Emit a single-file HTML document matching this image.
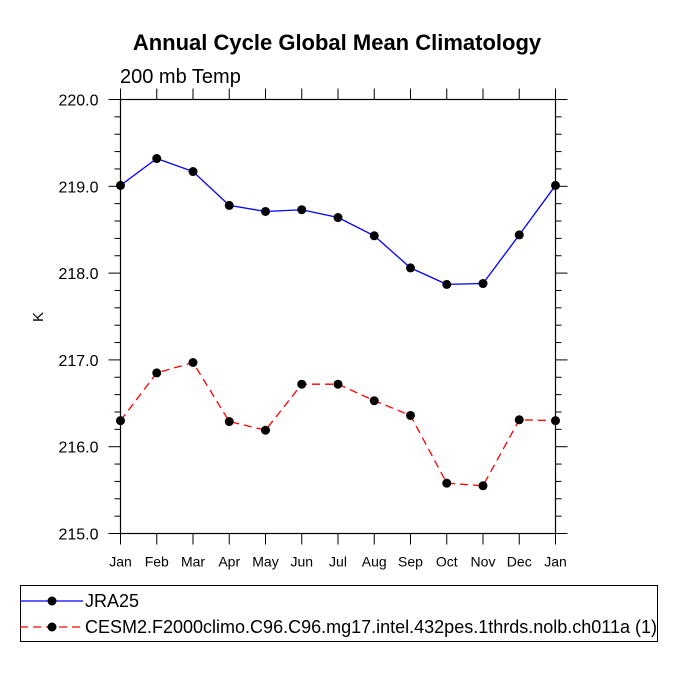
<!DOCTYPE html>
<html><head><meta charset="utf-8"><style>
body{margin:0;background:#fff;}
svg text{font-family:"Liberation Sans",sans-serif;}
</style></head><body>
<svg width="675" height="675" id="chart">
<text x="337" y="50" text-anchor="middle" font-size="22" font-weight="bold">Annual Cycle Global Mean Climatology</text>
<text x="120" y="83" font-size="20">200 mb Temp</text>
<text x="43" y="317" font-size="15" text-anchor="middle" transform="rotate(-90 43 317)">K</text>
<g id="axes"></g>
<g id="series"></g>
<rect x="20.5" y="585.5" width="637" height="56" fill="none" stroke="#000" stroke-width="1"/>
<g>
<line x1="20" y1="601" x2="83" y2="601" stroke="#00f" stroke-width="1.2"/>
<circle cx="52" cy="601" r="4.5" fill="#000"/>
<text x="85" y="607" font-size="18">JRA25</text>
</g>
<g>
<line x1="20" y1="627" x2="83" y2="627" stroke="#f00" stroke-width="1.2" stroke-dasharray="8,5"/>
<circle cx="52" cy="627" r="4.5" fill="#000"/>
<text x="85" y="633" font-size="18">CESM2.F2000climo.C96.C96.mg17.intel.432pes.1thrds.nolb.ch011a (1)</text>
</g>
</svg>
<script>
const months=["Jan","Feb","Mar","Apr","May","Jun","Jul","Aug","Sep","Oct","Nov","Dec","Jan"];
const jra25=[219.01,219.32,219.17,218.78,218.71,218.73,218.64,218.43,218.06,217.87,217.88,218.44,219.01];
const cesm2=[216.30,216.85,216.97,216.29,216.19,216.72,216.72,216.53,216.36,215.58,215.55,216.31,216.30];
const yTicks=[215,216,217,218,219,220];
const yTickLabels=["215.0","216.0","217.0","218.0","219.0","220.0"];
const L=120.5,R=555.5,T=99.5,B=533.5,ymin=215,ymax=220;
const NS="http://www.w3.org/2000/svg";
function xs(i){return L+(R-L)*i/(months.length-1);}
function ys(v){return B-(B-T)*(v-ymin)/(ymax-ymin);}
function mk(tag,attrs,parent){const e=document.createElementNS(NS,tag);for(const k in attrs)e.setAttribute(k,attrs[k]);parent.appendChild(e);return e;}
const ax=document.getElementById('axes');
const frame=mk('rect',{x:L,y:T,width:R-L,height:B-T,fill:'none',stroke:'#000','stroke-width':1.2},ax);


for(let v=ymin;v<=ymax+1e-9;v+=0.2){
  const y=ys(v);const major=Math.abs(v-Math.round(v))<1e-6;const len=major?12:6;
  mk('line',{x1:L-len,y1:y,x2:L,y2:y,stroke:'#000','stroke-width':1},ax);
  mk('line',{x1:R,y1:y,x2:R+len,y2:y,stroke:'#000','stroke-width':1},ax);
}
yTicks.forEach((v,i)=>{
  const t=mk('text',{x:L-22,y:ys(v)+6,'text-anchor':'end','font-size':16},ax);
  t.textContent=yTickLabels[i];
  
  
});
months.forEach((m,i)=>{
  const x=xs(i);
  mk('line',{x1:x,y1:B,x2:x,y2:B+11,stroke:'#000','stroke-width':1},ax);
  mk('line',{x1:x,y1:T-11,x2:x,y2:T,stroke:'#000','stroke-width':1},ax);
  const t=mk('text',{x:x,y:B+33,'text-anchor':'middle','font-size':14},ax);
  t.textContent=m;
  
  
});
const sg=document.getElementById('series');
function draw(vals,color,dash,name){
  const g=mk('g',{},sg);
  
  
  const pts=vals.map((v,i)=>xs(i)+','+ys(v)).join(' ');
  const a={points:pts,fill:'none',stroke:color,'stroke-width':1.3};
  if(dash)a['stroke-dasharray']=dash;
  mk('polyline',a,g);
  vals.forEach((v,i)=>{
    const c=mk('circle',{cx:xs(i),cy:ys(v),r:4.5,fill:'#000'},g);
    
    
  });
}
draw(jra25,'#00f',null,'jra25-series');
draw(cesm2,'#f00','8,5','cesm2-series');
</script>
</body></html>
